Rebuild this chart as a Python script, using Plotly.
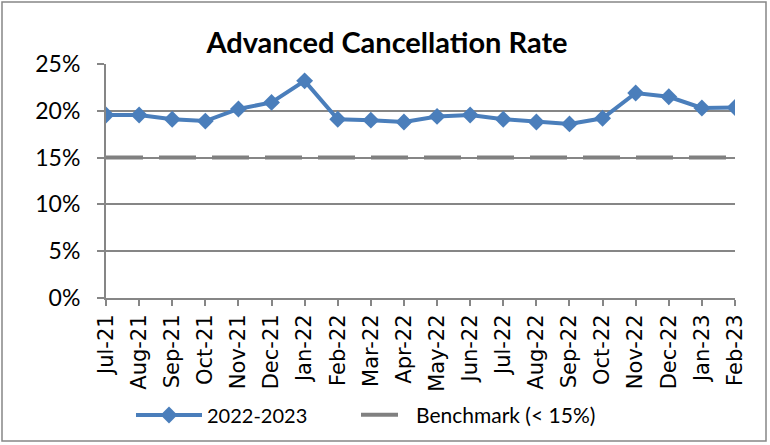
import plotly.graph_objects as go

months = ["Jul-21", "Aug-21", "Sep-21", "Oct-21", "Nov-21", "Dec-21", "Jan-22", "Feb-22",
          "Mar-22", "Apr-22", "May-22", "Jun-22", "Jul-22", "Aug-22", "Sep-22", "Oct-22",
          "Nov-22", "Dec-22", "Jan-23", "Feb-23"]
rate_2022_2023 = [0.1955, 0.1955, 0.191, 0.189, 0.202, 0.209, 0.232, 0.191,
                  0.190, 0.188, 0.194, 0.1955, 0.191, 0.188, 0.186, 0.192,
                  0.219, 0.215, 0.203, 0.2035]
benchmark = [0.15] * len(months)
y_ticks = [0, 0.05, 0.10, 0.15, 0.20, 0.25]
y_tick_labels = ["0%", "5%", "10%", "15%", "20%", "25%"]

W, H = 770, 445
L, R, T, B = 106, 35, 64, 147
pw, ph = W - L - R, H - T - B

fig = go.Figure()
fig.add_trace(go.Scatter(
    x=months, y=rate_2022_2023, name="2022-2023", mode="lines+markers",
    line=dict(color="#4a7ebb", width=4),
    marker=dict(symbol="diamond", size=13, color="#4a7ebb"),
    legend="legend",
))
fig.add_trace(go.Scatter(
    x=months, y=benchmark, name="Benchmark (< 15%)", mode="lines",
    line=dict(color="#808080", width=4, dash="37px,16px"),
    legend="legend2",
))

leg_common = dict(orientation="h", xanchor="left", y=(T + ph - 415) / ph, yanchor="middle",
                  bgcolor="rgba(0,0,0,0)")

fig.update_layout(
    width=W, height=H,
    margin=dict(l=L, r=R, t=T, b=B, autoexpand=False),
    paper_bgcolor="white", plot_bgcolor="white",
    title=dict(text="<b>Advanced Cancellation Rate</b>", x=(387 - L) / pw, xref="paper",
               xanchor="center", y=1 - 43 / H, yanchor="middle",
               font=dict(family="Lato, Carlito, Arial", size=29, color="black")),
    showlegend=True,
    legend=dict(x=(131 - L) / pw, itemwidth=66,
                font=dict(family="Lato, Arial", size=20, color="black"), **leg_common),
    legend2=dict(x=(356 - L) / pw, itemwidth=50,
                 font=dict(family="Lato, Arial", size=21, color="black"), **leg_common),
    xaxis=dict(type="category", range=[0, len(months) - 1], showgrid=False,
               showline=True, linecolor="#868686", linewidth=2, automargin=False,
               ticks="outside", ticklen=6, tickcolor="#868686", tickwidth=2,
               tickangle=-90, tickfont=dict(family="DejaVu Sans", size=21, color="black")),
    yaxis=dict(range=[0, 0.25], tickvals=y_ticks, ticktext=y_tick_labels,
               showgrid=True, gridcolor="#868686", gridwidth=2, automargin=False,
               showline=True, linecolor="#868686", linewidth=2,
               ticks="outside", ticklen=7, tickcolor="#868686", tickwidth=2,
               ticklabelstandoff=12, zeroline=False,
               tickfont=dict(family="Lato, Carlito, Arial", size=23, color="black")),
    shapes=[dict(type="rect", xref="paper", yref="paper",
                 x0=(2 - L) / pw, x1=(766 - L) / pw,
                 y0=(T + ph - 441) / ph, y1=(T + ph - 2) / ph,
                 line=dict(color="#868686", width=1.5))],
)
fig.write_html("out.html", config={"displayModeBar": False},
               post_script="document.body.style.margin='0';")
